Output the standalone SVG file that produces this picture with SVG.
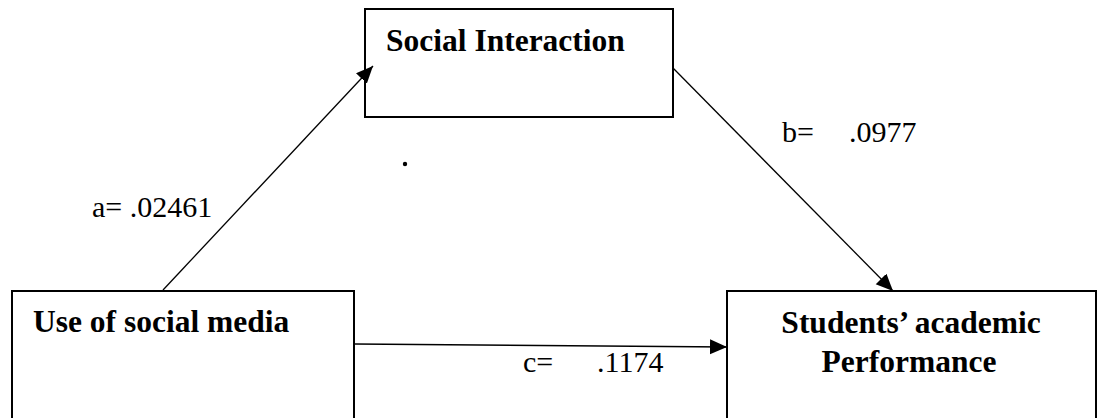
<svg xmlns="http://www.w3.org/2000/svg" width="1098" height="418" viewBox="0 0 1098 418">
<style>
.box{fill:#fff;stroke:#000;stroke-width:2}
.t{font-family:"Liberation Serif","Times New Roman",serif;font-weight:bold;font-size:31.5px;fill:#000}
.lbl{font-family:"Liberation Serif","Times New Roman",serif;font-size:30px;fill:#000}
.con{stroke:#000;stroke-width:1.3;fill:none;marker-end:url(#ah)}
</style>
<defs>
<marker id="ah" markerUnits="userSpaceOnUse" markerWidth="18" markerHeight="16" refX="17" refY="7.5" orient="auto">
<path d="M0,0 L17,7.5 L0,15 Z" fill="#000"/>
</marker>
</defs>
<rect width="1098" height="418" fill="#fff"/>
<g id="social">
<rect class="box" x="365" y="9" width="308" height="108"/>
<text class="t" x="386" y="51">Social Interaction</text>
</g>
<g id="use">
<rect class="box" x="12" y="291" width="342" height="140"/>
<text class="t" x="33" y="332">Use of social media</text>
</g>
<g id="students">
<rect class="box" x="727" y="291" width="369" height="140"/>
<text class="t" x="911" y="333" text-anchor="middle">Students’ academic</text>
<text class="t" x="909" y="372" text-anchor="middle">Performance</text>
</g>
<g id="connectors">
<line class="con" x1="163" y1="290" x2="373" y2="66"/>
<line class="con" x1="673" y1="68" x2="893" y2="291"/>
<line class="con" x1="355" y1="344" x2="727" y2="347"/>
</g>
<g id="labels">
<text class="lbl" x="92" y="217">a= .02461</text>
<text class="lbl" x="782" y="142">b=</text>
<text class="lbl" x="849" y="142">.0977</text>
<text class="lbl" x="523" y="372">c=</text>
<text class="lbl" x="597" y="372">.1174</text>
<circle cx="405" cy="164" r="2.2" fill="#000"/>
</g>
</svg>
